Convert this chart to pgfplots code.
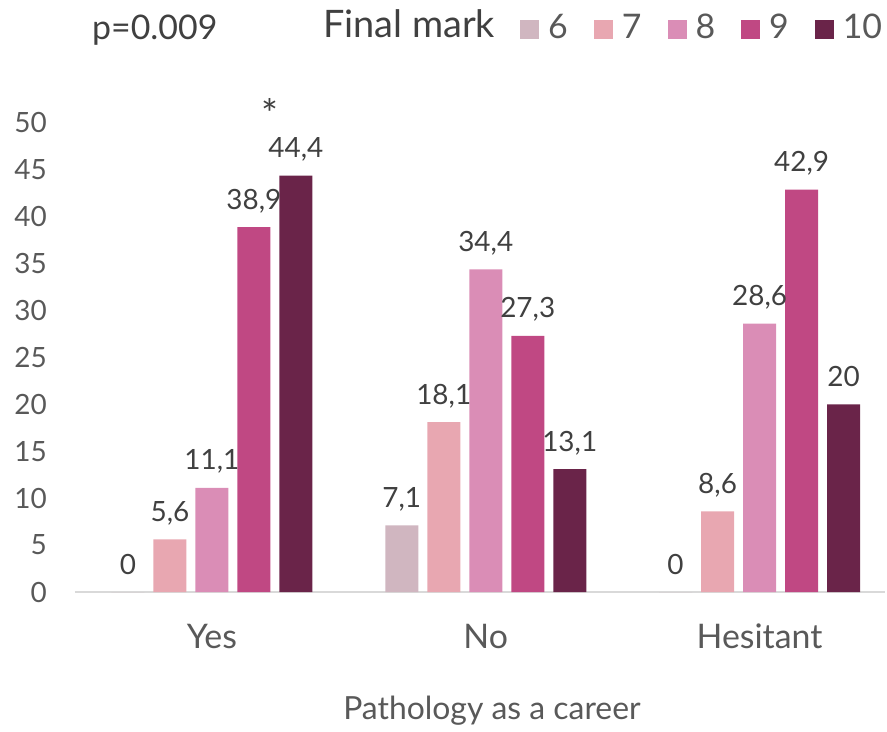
\documentclass[border=0pt]{standalone}
\usepackage{fontspec}
\setmainfont{Lato}
\usepackage{pgfplots}
\pgfplotsset{compat=1.18}

\definecolor{c6}{RGB}{208,182,192}
\definecolor{c7}{RGB}{232,167,177}
\definecolor{c8}{RGB}{218,141,182}
\definecolor{c9}{RGB}{192,72,131}
\definecolor{c10}{RGB}{106,36,73}
\definecolor{axisgray}{RGB}{217,217,217}
\definecolor{tickgray}{RGB}{89,89,89}
\definecolor{textgray}{RGB}{64,64,64}

\begin{document}
\begin{tikzpicture}
\begin{axis}[
    scale only axis,
    width=810bp, height=469bp,
    xmin=-0.5, xmax=2.458,
    ymin=0, ymax=50,
    ybar, bar width=33bp,
    clip=false,
    axis x line=bottom, axis y line=left,
    x axis line style={-, draw=axisgray, line width=1.5bp},
    y axis line style={draw=none},
    major tick length=0pt,
    xtick={0,1,2},
    xticklabels={Yes,No,Hesitant},
    ytick={0,5,...,50},
    tick label style={font=\fontsize{28}{30}\selectfont, text=tickgray},
    xticklabel style={font=\fontsize{34}{36}\selectfont, anchor=north, inner sep=0pt, yshift=-32bp},
    yticklabel style={anchor=east, inner sep=0pt, xshift=-28bp},
    xlabel={Pathology as a career},
    xlabel style={at={(axis description cs:0.5,0)}, anchor=north, inner sep=0pt,
        xshift=12bp, yshift=-104bp, font=\fontsize{32}{34}\selectfont, text=tickgray},
    nodes near coords={\pgfmathprintnumber{\pgfplotspointmeta}\vphantom{,}},
    every node near coord/.append style={font=\fontsize{28}{30}\selectfont,
        text=textgray, inner sep=0pt, yshift=14bp},
    legend columns=-1,
    legend image code/.code={\fill[#1] (0bp,-12bp) rectangle (19bp,7bp);},
    legend style={at={(0.5494,1.205)}, anchor=west, draw=none, fill=none,
        inner sep=0pt, font=\fontsize{34}{36}\selectfont, text=tickgray,
        /tikz/every even column/.append style={column sep=22bp},
        /tikz/every odd column/.append style={column sep=5bp},
        nodes={inner xsep=4bp, inner ysep=0pt}},
    /pgf/number format/use comma,
    /pgf/number format/1000 sep={},
    /pgf/number format/assume math mode=true,
]
\addplot[fill=c6, draw=none, bar shift=-84bp] coordinates {(0,0) (1,7.1) (2,0)};
\addlegendentry{6}
\addplot[fill=c7, draw=none, bar shift=-42bp] coordinates {(0,5.6) (1,18.1) (2,8.6)};
\addlegendentry{7}
\addplot[fill=c8, draw=none, bar shift=0bp] coordinates {(0,11.1) (1,34.4) (2,28.6)};
\addlegendentry{8}
\addplot[fill=c9, draw=none, bar shift=42bp] coordinates {(0,38.9) (1,27.3) (2,42.9)};
\addlegendentry{9}
\addplot[fill=c10, draw=none, bar shift=84bp] coordinates {(0,44.4) (1,13.1) (2,20)};
\addlegendentry{10}
% significance mark over the "Yes" group
\node[anchor=north, inner sep=0pt, yshift=77bp, font=\fontsize{40}{42}\selectfont, text=textgray]
    at (axis cs:0.2118,44.4) {*};
\end{axis}
\node[anchor=base west, inner sep=0pt, font=\fontsize{38}{40}\selectfont, text=textgray]
    at ([xshift=248bp, yshift=554bp]current axis.south west) {Final mark};
\node[anchor=base west, inner sep=0pt, font=\fontsize{34}{36}\selectfont, text=textgray]
    at ([xshift=17bp, yshift=552bp]current axis.south west) {p=0.009};
\pgfresetboundingbox
\path (current axis.south west) ++(-75bp,-140bp) rectangle ++(887bp,732bp);
\end{tikzpicture}
\end{document}
